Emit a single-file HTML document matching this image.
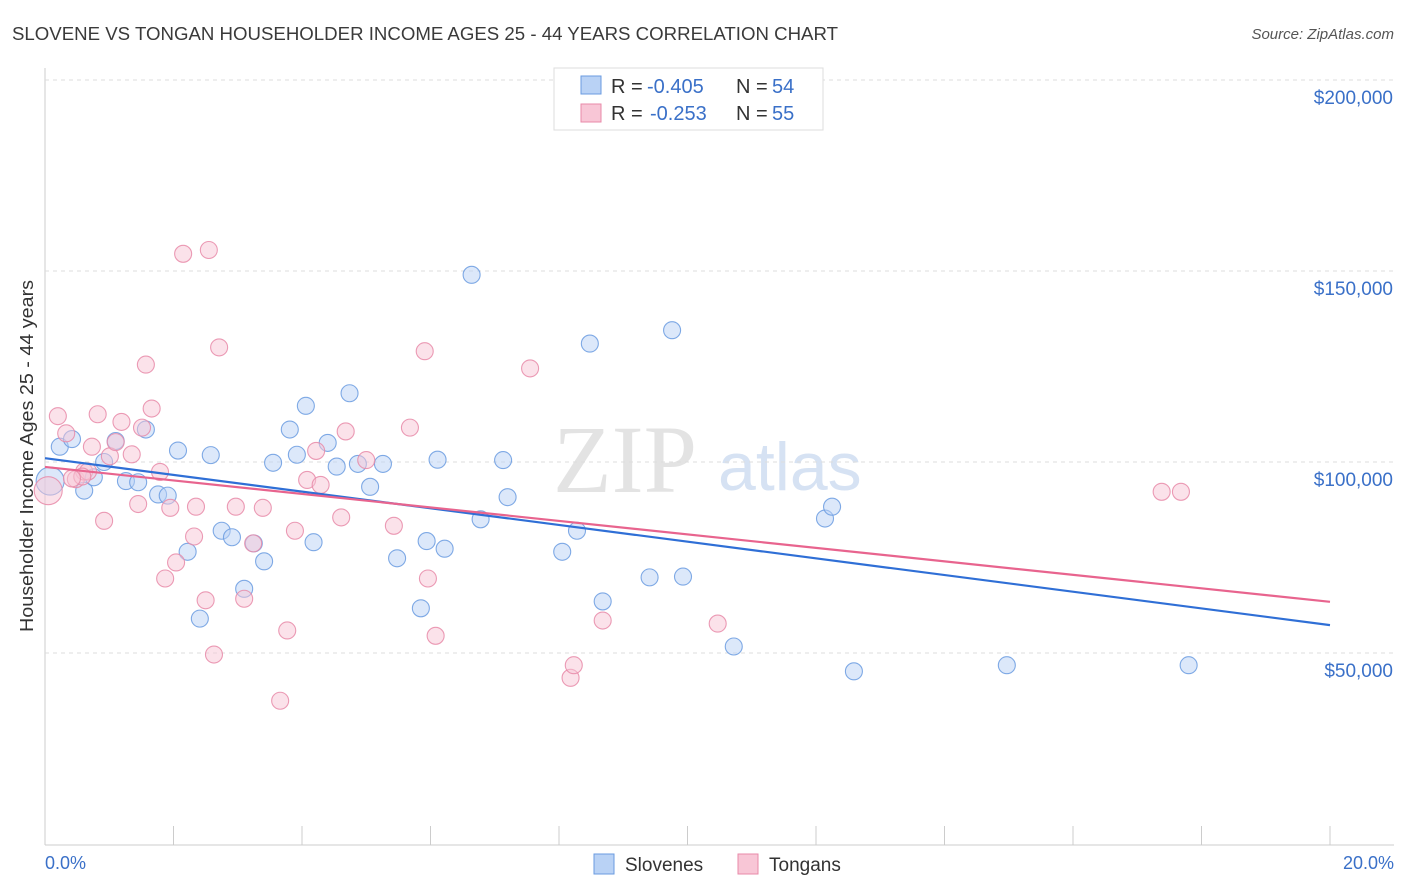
<!DOCTYPE html>
<html><head><meta charset="utf-8"><style>
body{margin:0;background:#fff;font-family:"Liberation Sans",sans-serif}
svg{display:block}
</style></head><body>
<svg id="chart" width="1406" height="892">
<text x="12" y="40" font-size="18" fill="#3a3a3a" textLength="826" lengthAdjust="spacingAndGlyphs">SLOVENE VS TONGAN HOUSEHOLDER INCOME AGES 25 - 44 YEARS CORRELATION CHART</text>
<text x="1394" y="39" font-size="15" fill="#555" font-style="italic" text-anchor="end">Source: ZipAtlas.com</text>
<g><text x="553" y="492" font-size="96" fill="#d8d8d8" font-family="Liberation Serif" opacity="0.7">ZIP</text><text x="718" y="490" font-size="68" fill="#c6d7ef" opacity="0.7">atlas</text></g>
<g id="grid"></g><g id="pts"></g><g id="lines"></g>
<text x="33" y="456" font-size="18" fill="#333" text-anchor="middle" textLength="352" lengthAdjust="spacingAndGlyphs" transform="rotate(-90 33 456)">Householder Income Ages 25 - 44 years</text>
<text x="45" y="869" font-size="18" fill="#3a70c8">0.0%</text>
<text x="1394" y="869" font-size="18" fill="#3a70c8" text-anchor="end">20.0%</text>
<g>
<rect x="554" y="68" width="269" height="62" fill="#fff" stroke="#ddd"/>
<rect x="581" y="76" width="20" height="18" fill="#b9d2f5" stroke="#6a9be0"/>
<rect x="581" y="104" width="20" height="18" fill="#f8c6d6" stroke="#e88aa8"/>
<text y="93" font-size="20" fill="#333"><tspan x="611">R =</tspan><tspan x="647" fill="#3a70c8">-0.405</tspan><tspan x="736">N =</tspan><tspan x="772" fill="#3a70c8">54</tspan></text>
<text y="120" font-size="20" fill="#333"><tspan x="611">R =</tspan><tspan x="650" fill="#3a70c8">-0.253</tspan><tspan x="736">N =</tspan><tspan x="772" fill="#3a70c8">55</tspan></text>
</g>
<g>
<rect x="594" y="854" width="20" height="20" fill="#b9d2f5" stroke="#6a9be0"/>
<text x="625" y="871" font-size="19" fill="#333">Slovenes</text>
<rect x="738" y="854" width="20" height="20" fill="#f8c6d6" stroke="#e88aa8"/>
<text x="769" y="871" font-size="19" fill="#333">Tongans</text>
</g>
</svg>
<script>
const yTicks=[50000,100000,150000,200000];
const yTickLabels=["$50,000","$100,000","$150,000","$200,000"];
const xTicks=[0,2,4,6,8,10,12,14,16,18,20];
const sloveneX=[0.08,0.23,0.42,0.61,0.76,0.92,1.1,1.26,1.45,1.57,1.76,1.91,2.07,2.22,2.41,2.58,2.75,2.91,3.1,3.25,3.41,3.55,3.81,3.92,4.06,4.18,4.4,4.54,4.74,4.87,5.06,5.26,5.48,5.85,5.94,6.11,6.22,6.64,6.78,7.13,7.2,8.05,8.28,8.48,8.68,9.41,9.76,9.93,10.72,12.14,12.25,12.59,14.97,17.8];
const sloveneY=[95000,104000,106000,92500,96000,100000,105500,95000,94700,108500,91500,91200,103000,76500,59000,101800,82000,80300,66800,78700,74000,99800,108500,101900,114700,79000,105000,98800,118000,99500,93500,99500,74800,61700,79300,100600,77300,149000,85000,100500,90800,76500,82000,131000,63500,69800,134500,70000,51700,85200,88300,45200,46800,46800];
const tonganX=[0.05,0.2,0.33,0.48,0.61,0.67,0.73,0.82,0.92,1.01,1.1,1.19,1.35,1.45,1.57,1.66,1.79,1.87,1.95,2.04,2.15,2.32,2.35,2.5,2.55,2.63,2.71,2.97,3.1,3.24,3.39,3.66,3.77,3.89,4.08,4.22,4.29,4.61,4.68,5.0,5.43,5.68,5.91,5.96,6.08,7.55,8.18,8.23,8.68,10.47,17.38,17.68,0.58,0.42,1.51];
const tonganY=[92500,112000,107500,95500,97500,97500,104000,112500,84600,101500,105200,110500,102000,89000,125500,114000,97400,69500,88000,73700,154500,80500,88300,63800,155500,49600,130000,88300,64200,78700,88000,37500,55900,82000,95300,102900,94000,85500,108000,100500,83300,109000,129000,69500,54500,124500,43500,46800,58500,57700,92200,92200,96200,95700,109000];
const trendX=[0,20];
const sloveneTrend=[101000,57300];
const tonganTrend=[98700,63400];
const X=v=>45+v/20*1285, Y=v=>844-v/50000*191;
const ns="http://www.w3.org/2000/svg";
function mk(t,a,p){const e=document.createElementNS(ns,t);for(const k in a)e.setAttribute(k,a[k]);p.appendChild(e);return e;}
const grid=document.getElementById('grid');
let ax=mk('line',{x1:45,y1:68,x2:45,y2:845,stroke:'#ccc'},grid);

let bx=mk('line',{x1:45,y1:845,x2:1394,y2:845,stroke:'#ccc'},grid);

yTicks.forEach((v,i)=>{
 const l=mk('line',{x1:45,x2:1394,y1:Y(v),y2:Y(v),stroke:'#ddd','stroke-dasharray':'4 4'},grid);
 
 const t=mk('text',{x:1393,y:Y(v)+24,'font-size':19,fill:'#3a70c8','text-anchor':'end'},grid);t.textContent=yTickLabels[i];
 
});
xTicks.forEach(v=>{const l=mk('line',{x1:X(v),x2:X(v),y1:826,y2:845,stroke:'#ccc'},grid);
 });
const pts=document.getElementById('pts');
function dots(xs,ys,fill,stroke,name){xs.forEach((x,i)=>{const r=i===0?14:8.5;
 const c=mk('circle',{cx:X(x),cy:Y(ys[i]),r:r,fill:fill,'fill-opacity':0.5,stroke:stroke,'stroke-opacity':0.85,'stroke-width':1.1},pts);
 });}
dots(sloveneX,sloveneY,'#b9d2f5','#6a9be0','slovene-point');
dots(tonganX,tonganY,'#f8c6d6','#e88aa8','tongan-point');
const lines=document.getElementById('lines');
let a=mk('line',{x1:X(trendX[0]),y1:Y(sloveneTrend[0]),x2:X(trendX[1]),y2:Y(sloveneTrend[1]),stroke:'#2f6fd6','stroke-width':2.2},lines);

let b=mk('line',{x1:X(trendX[0]),y1:Y(tonganTrend[0]),x2:X(trendX[1]),y2:Y(tonganTrend[1]),stroke:'#e8648e','stroke-width':2.2},lines);

</script>
</body></html>
